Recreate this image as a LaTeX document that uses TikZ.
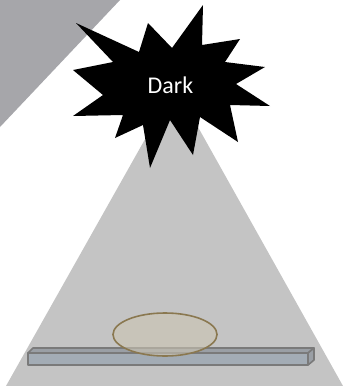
\documentclass[tikz,border=0pt]{standalone}
\usepackage{fontspec}
\setmainfont{Carlito}
\usepackage{tikz}
\usetikzlibrary{positioning}
\definecolor{wedgegray}{RGB}{166,166,170}
\definecolor{beamgray}{RGB}{196,196,196}
\definecolor{barfront}{RGB}{163,172,181}
\definecolor{bartop}{RGB}{154,159,165}
\definecolor{barline}{RGB}{122,122,122}
\definecolor{dropfill}{RGB}{203,196,179}
\definecolor{dropline}{RGB}{138,120,80}

\begin{document}
\begin{tikzpicture}[x=1pt,y=-1pt,
   bar/.style={draw=barline,line width=1.6pt,line join=round},
   blast/.style={fill=black}]
  \useasboundingbox[fill=white] (0,0) rectangle (343,386);
  % light from the corner and from the dark spot
  \fill[wedgegray] (0,0) -- (120,0) -- (0,127) -- cycle;
  \fill[beamgray] (175,86) -- (343,386) -- (6,386) -- cycle;
  % the bar
  \filldraw[bar,fill=bartop] (28,353) -- (33,348) -- (314,348) -- (308,353) -- cycle;
  \filldraw[bar,fill=bartop] (308,353) -- (314,348) -- (314,360) -- (308,365) -- cycle;
  \filldraw[bar,fill=barfront] (28,353) rectangle (308,365);
  % drop on the bar
  \draw[draw=dropline,line width=1.6pt,fill=dropfill,fill opacity=0.6]
       (165,334.5) ellipse [x radius=52,y radius=21.5];
  % star
  \fill[blast] (76,23) -- (139,52) -- (148,23) -- (172,48) -- (203,5)
       -- (202,45) -- (240,39) -- (225,62) -- (265,67) -- (236,84)
       -- (270,106) -- (230,105) -- (238,142) -- (200,117) -- (193,155)
       -- (170,120) -- (150,168) -- (143,125) -- (115,138) -- (123,115)
       -- (73,116) -- (103,95) -- (73,70) -- (113,62) -- cycle;
  \node[anchor=base,text=white,font=\fontsize{24}{28}\selectfont,inner sep=0]
       (dark) at (170.5,93) {Dark};
\end{tikzpicture}
\end{document}
